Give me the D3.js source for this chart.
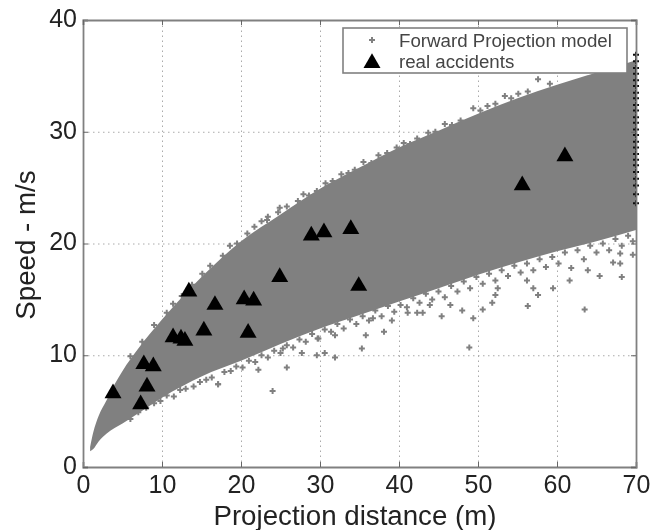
<!DOCTYPE html>
<html>
<head>
<meta charset="utf-8">
<script src="https://cdn.jsdelivr.net/npm/d3@7"></script>
<style>
  html, body { margin: 0; background: #fff; }
  svg { display: block; font-family: "Liberation Sans", Arial, sans-serif; }
</style>
</head>
<body>
<div id="chart"></div>
<script>
// real accidents
const accidentX = [3.8, 7.3, 8.1, 7.7, 8.9, 11.4, 12.4, 12.9, 13.4, 15.3, 16.7, 20.4, 21.6, 20.9, 24.9, 28.9, 30.5, 33.9, 34.9, 55.6, 61];
const accidentY = [6.6, 5.6, 7.2, 9.2, 9.0, 11.6, 11.5, 11.3, 15.7, 12.2, 14.5, 15.0, 14.9, 12.0, 17.0, 20.7, 21.0, 21.3, 16.2, 25.2, 27.8];

// solid part of the model cloud
const bandX     = [0.9, 1.3, 2, 3, 4, 5, 7, 10, 15, 20, 25, 30, 35, 40, 45, 50, 55, 60, 65, 70];
const bandUpper = [1.8, 3.1, 4.6, 6, 7.4, 8.6, 10.6, 13.2, 17, 20.2, 22.6, 24.9, 26.8, 28.6, 30.1, 31.6, 33, 34.2, 35.3, 36.4];
const bandLower = [1.4, 1.6, 2.3, 3, 3.5, 3.9, 4.8, 6.2, 8.1, 9.5, 11, 12.4, 13.6, 14.8, 16, 17.2, 18.3, 19.3, 20.2, 21.2];

// model points just above the cloud
const upperX = [6, 7.5, 9, 10.6, 11.4, 12.5, 13.8, 15.1, 16.1, 17.7, 18.6, 19.5, 20.8, 21.7, 22.6, 23.3, 23.4, 24.7, 24.9, 25.8, 27.2, 27.9, 28.6, 29.6, 30.7, 31.6, 32.7, 33.6, 34.4, 35.5, 36.5, 37.4, 38.5, 39.7, 40.6, 41.4, 42.3, 43.7, 44.6, 45.8, 46.7, 47.8, 49.4, 50.3, 51.2, 52.2, 53.4, 54.2, 55.1, 56.3, 57.6, 59.1];
const upperY = [9.9, 11.2, 12.7, 13.8, 14.6, 15.3, 16.3, 17.3, 18, 18.9, 19.8, 20, 20.9, 21.5, 22, 22.1, 22.4, 22.8, 23.2, 23.3, 23.8, 24.4, 24.3, 24.7, 25.4, 25.6, 26.2, 26.3, 26.6, 27.3, 27.2, 27.9, 28.1, 28.6, 29, 28.9, 29.4, 29.9, 30, 30.7, 30.6, 31, 32.1, 31.9, 32.3, 32.5, 33.2, 33, 33.4, 33.6, 34.7, 34.3];

// model points just below the cloud
const lowerX = [6, 7, 8, 9, 9.8, 10.6, 11.5, 12.3, 13, 14, 14.8, 15.6, 16.3, 17.1, 17.9, 18.7, 19.4, 20.2, 21, 21.8, 22.6, 23.4, 24.2, 25, 25.8, 26.6, 27.4, 28.2, 29, 29.8, 30.6, 31.4, 32.2, 33, 33.8, 34.6, 35.4, 36.2, 37, 37.8, 38.6, 39.4, 40.2, 41, 41.8, 42.6, 43.4, 44.2, 45, 45.8, 46.6, 47.4, 48.2, 49, 49.8, 50.6, 51.4, 52.2, 53, 53.8, 54.6, 55.4, 56.2, 57, 57.8, 58.6, 59.4, 60.2, 61, 61.8, 62.6, 63.4, 64.2, 65, 65.8, 66.6, 67.4, 68.2, 69, 69.6];
const lowerY = [4.3, 4.9, 5.3, 5.7, 5.9, 6.4, 6.3, 6.9, 7, 7.2, 7.6, 7.8, 8, 7.4, 8.5, 8.6, 9, 8.9, 9.5, 9.4, 10, 9.8, 10.4, 10.2, 10.9, 10.7, 11.4, 11.2, 11.9, 11.5, 12.3, 12.1, 12.8, 12.4, 13.2, 12.8, 13.5, 13.1, 14, 13.5, 14.4, 13.9, 14.5, 14.3, 15.1, 14.7, 15.5, 15, 15.7, 15.2, 16.2, 15.7, 16.6, 16, 17, 16.4, 17.3, 16.7, 17.6, 17.1, 18, 17.4, 18.2, 17.6, 18.6, 17.9, 18.8, 18.2, 19.2, 17.8, 19.4, 18.6, 19.8, 19.2, 20, 19.4, 20.4, 19.8, 20.7, 20.2];

// stray model points well clear of the cloud
const strayX = [17.1, 22.2, 24, 25.3, 25.8, 27.7, 29.6, 29.7, 30.6, 31.9, 31.9, 35.3, 35.8, 36.7, 38.1, 39.1, 41.1, 42.3, 43, 43.9, 45.4, 46.5, 48, 48.9, 49.4, 50.6, 51.8, 52.2, 52.5, 56.2, 56.3, 57, 57.6, 59.5, 61.6, 63.5, 63.9, 65.4, 67.1, 68, 68, 68.2, 69.6];
const strayY = [7.4, 8.7, 6.8, 10.6, 8.9, 10.2, 10, 11.5, 10.2, 11.8, 9.8, 10.6, 11.8, 13.3, 12.1, 13.1, 13.8, 13.8, 13.8, 14.5, 13.5, 14.5, 14, 10.7, 13.3, 14.1, 14.7, 15.4, 16, 16.7, 14.4, 16, 15.4, 16, 16.7, 14.1, 17.6, 17.1, 18.3, 18.2, 19.1, 17, 19];

// dark run of points stacked on the right limit
const edgeY = [23.6, 24.4, 25.2, 25.8, 26.4, 27, 27.5, 28, 28.6, 29.1, 29.7, 30.2, 30.8, 31.3, 31.9, 32.4, 33, 33.5, 34.1, 34.6, 35.2, 35.7, 36.3, 36.9];

const xTicks = [0, 10, 20, 30, 40, 50, 60, 70];
const yTicks = [0, 10, 20, 30, 40];
const legendLabels = ["Forward Projection model", "real accidents"];

const width = 661, height = 530;
const margin = { top: 20, right: 25, bottom: 63, left: 83 };
const innerW = width - margin.left - margin.right;
const innerH = height - margin.top - margin.bottom;

const cloudColor = "#808080";

const svg = d3.select("#chart").append("svg")
    .attr("width", width)
    .attr("height", height);

// the reference is a soft scan, so everything gets a small blur
svg.append("filter")
    .attr("id", "soft")
    .attr("filterUnits", "userSpaceOnUse")
    .attr("x", 0).attr("y", 0)
    .attr("width", width).attr("height", height)
  .append("feGaussianBlur").attr("stdDeviation", 0.6);

const root = svg.append("g").attr("filter", "url(#soft)");
const g = root.append("g").attr("transform", `translate(${margin.left},${margin.top})`);

const x = d3.scaleLinear().domain([0, 70]).range([0, innerW]);
const y = d3.scaleLinear().domain([0, 40]).range([innerH, 0]);

// dotted grid
g.append("g")
    .attr("transform", `translate(0,${innerH})`)
    .call(d3.axisBottom(x).tickValues(xTicks).tickSize(-innerH).tickFormat(""))
    .call(a => a.select(".domain").remove())
    .selectAll("line").attr("class", "grid").attr("stroke", "#aaa").attr("stroke-dasharray", "1.5 3.5");
g.append("g")
    .call(d3.axisLeft(y).tickValues(yTicks).tickSize(-innerW).tickFormat(""))
    .call(a => a.select(".domain").remove())
    .selectAll("line").attr("class", "grid").attr("stroke", "#aaa").attr("stroke-dasharray", "1.5 3.5");

const band = d3.area()
    .x((d, i) => x(bandX[i]))
    .y0((d, i) => y(bandLower[i]))
    .y1((d, i) => y(bandUpper[i]))
    .curve(d3.curveMonotoneX);

g.append("path")
    .datum(bandX)
    .attr("d", band)
    .attr("fill", cloudColor);

const plus = d3.symbol().type(d3.symbolCross).size(20);

function drawPoints(cls, xs, ys) {
  g.selectAll("." + cls)
      .data(xs)
      .enter().append("path")
      .attr("class", cls)
      .attr("d", plus)
      .attr("fill", cloudColor)
      .attr("transform", (d, i) => `translate(${x(d)},${y(ys[i])})`);
}
drawPoints("upper", upperX, upperY);
drawPoints("lower", lowerX, lowerY);
drawPoints("stray", strayX, strayY);

g.selectAll(".edge")
    .data(edgeY)
    .enter().append("path")
    .attr("class", "edge")
    .attr("d", plus)
    .attr("fill", "#111")
    .attr("transform", d => `translate(${x(70)},${y(d)})`);

const triangle = d3.symbol().type(d3.symbolTriangle).size(125);

g.selectAll(".accident")
    .data(accidentX)
    .enter().append("path")
    .attr("class", "accident")
    .attr("d", triangle)
    .attr("fill", "#000")
    .attr("transform", (d, i) => `translate(${x(d)},${y(accidentY[i])})`);

// axes, inward ticks on all sides
const xAxis = g.append("g")
    .attr("transform", `translate(0,${innerH})`)
    .call(d3.axisBottom(x).tickValues(xTicks).tickSize(-5).tickPadding(8));
const yAxis = g.append("g")
    .call(d3.axisLeft(y).tickValues(yTicks).tickSize(-5).tickPadding(6));
const topAxis = g.append("g")
    .call(d3.axisTop(x).tickValues(xTicks).tickSize(-5).tickFormat(""));
const rightAxis = g.append("g")
    .attr("transform", `translate(${innerW},0)`)
    .call(d3.axisRight(y).tickValues(yTicks).tickSize(-5).tickFormat(""));

[xAxis, yAxis, topAxis, rightAxis].forEach(a => {
  a.select(".domain").attr("stroke", "#808080").attr("stroke-width", 1.8);
  a.selectAll(".tick line").attr("stroke", "#666");
  a.selectAll("text")
      .attr("font-size", 25)
      .attr("fill", "#222")
      .attr("font-family", "Liberation Sans");
});
yAxis.selectAll("text").attr("dy", "0.25em");

// axis titles
root.append("text")
    .attr("x", 355)
    .attr("y", 525)
    .attr("text-anchor", "middle")
    .attr("font-size", 27.7)
    .attr("fill", "#222")
    .text("Projection distance (m)");
root.append("text")
    .attr("transform", "translate(35,245) rotate(-90)")
    .attr("text-anchor", "middle")
    .attr("font-size", 27.7)
    .attr("fill", "#222")
    .text("Speed - m/s");

// legend
const legend = root.append("g").attr("transform", "translate(343,28)");
legend.append("rect")
    .attr("width", 284)
    .attr("height", 45)
    .attr("fill", "#fff")
    .attr("stroke", "#808080")
    .attr("stroke-width", 1.6);
legend.append("path")
    .attr("d", plus)
    .attr("fill", cloudColor)
    .attr("transform", "translate(29,12)");
legend.append("path")
    .attr("d", triangle)
    .attr("fill", "#000")
    .attr("transform", "translate(29,35)");
legend.selectAll(".label")
    .data(legendLabels)
    .enter().append("text")
    .attr("class", "label")
    .attr("x", 56)
    .attr("y", (d, i) => 19 + i * 21)
    .attr("font-size", 18.7)
    .attr("fill", "#444")
    .text(d => d);
</script>
</body>
</html>
